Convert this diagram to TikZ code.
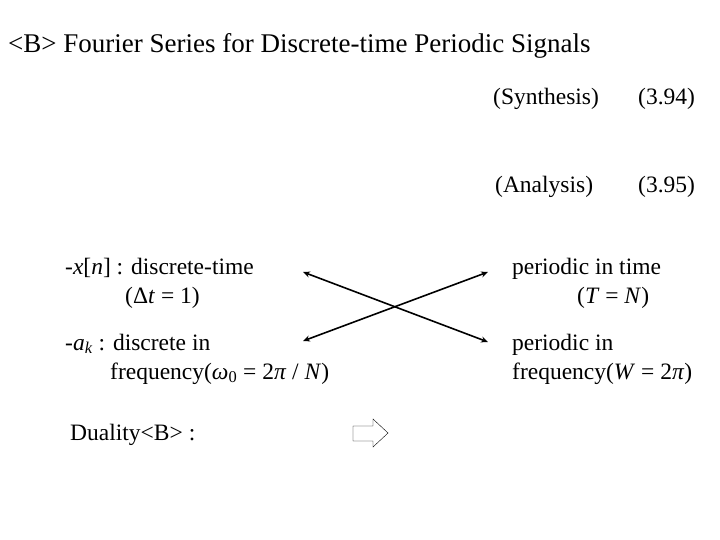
\documentclass[tikz,border=0pt]{standalone}
\usepackage{fontspec}
\setmainfont{Liberation Serif}
\usetikzlibrary{arrows.meta}

\tikzstyle{txt} = [anchor=base west, inner sep=0pt, font=\fontsize{23.5}{28}\selectfont]
\tikzstyle{title} = [anchor=base west, inner sep=0pt, font=\fontsize{27}{32}\selectfont]
\tikzstyle{arrow} = [line width=1.6pt, {Stealth[length=7pt,width=6pt]}-{Stealth[length=7pt,width=6pt]}]

\begin{document}
\begin{tikzpicture}[x=1pt, y=-1pt]
\useasboundingbox (0,0) rectangle (720,540);

\node (head) [title] at (8,53) {<B> Fourier Series for Discrete-time Periodic Signals};

\node (synth) [txt] at (493,105) {(Synthesis)};
\node (eqsyn) [txt] at (638,105) {(3.94)};
\node (anal) [txt] at (495,193) {(Analysis)};
\node (eqana) [txt] at (638,193) {(3.95)};

\node (xn) [txt] at (65,274) {-\textit{x}[\textit{n}] : discrete-time};
\node (dt) [txt] at (125,303) {(Δ\textit{t} = 1)};
\node (ak) [txt] at (65,350) {-\textit{a}\textsubscript{\textit{k}} : discrete in};
\node (wo) [txt] at (110,379) {frequency(\textit{ω}\textsubscript{0} = 2\textit{π} / \textit{N})};

\node (ptime) [txt] at (512,274) {periodic in time};
\node (tn) [txt] at (577,303) {(\textit{T} = \textit{N})};
\node (pfreq) [txt] at (512,350) {periodic in};
\node (wf) [txt] at (512,379) {frequency(\textit{W} = 2\textit{π})};

\node (dual) [txt] at (70,440) {Duality<B> :};

\coordinate (xl) at (303,272);
\coordinate (al) at (303,341);
\coordinate (tr) at (488,272);
\coordinate (fr) at (488,342);

\draw [arrow] (xl) -- (fr);
\draw [arrow] (al) -- (tr);

\draw (353,426) -- (373,426) -- (373,419) -- (388,433) -- (373,447) -- (373,441) -- (353,441) -- cycle;
\end{tikzpicture}
\end{document}
